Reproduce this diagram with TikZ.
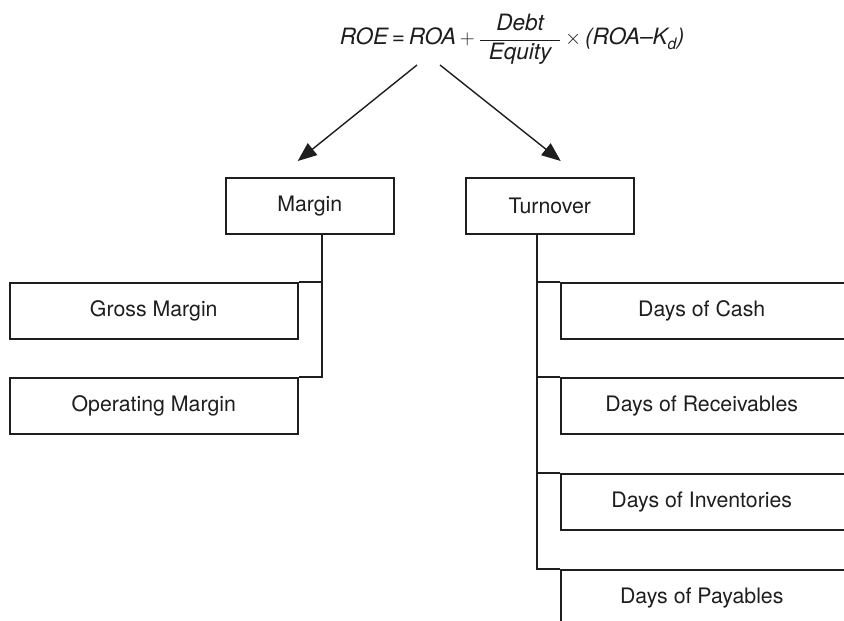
\documentclass[tikz,border=0pt]{standalone}
\usepackage{fontspec}
\setmainfont{TeX Gyre Heros}
\usetikzlibrary{arrows.meta}

\definecolor{ink}{HTML}{1E1E1E}

\begin{document}
\begin{tikzpicture}[x=1pt, y=-1pt,
    line width=1.5pt, draw=ink, text=ink,
    box/.style={draw=ink, line width=1.5pt, rectangle, anchor=north west,
      minimum height=56pt, inner sep=0pt,
      font=\fontsize{21.3}{25}\selectfont},
    smallbox/.style={box, minimum width=168pt},
    wide/.style={box, minimum width=288pt},
    daybox/.style={box, minimum width=302pt},
    daylabel/.style={label={[xshift=-10pt, font=\fontsize{21.3}{25}\selectfont, text=ink]center:#1}},
    link/.style={draw=ink, line width=1.5pt},
    arr/.style={draw=ink, line width=1.4pt, -{Triangle[length=19pt, width=15pt]}}
  ]
  % page area
  \clip (0,0) rectangle (844,621);
  \fill[white] (0,0) rectangle (844,621);

  % the ROE identity
  \node[anchor=base west, inner sep=0pt, font=\fontsize{22.5}{27}\selectfont] (formula) at (339,45)
    {{\itshape ROE}\,=\,{\itshape ROA}\,$+$\,$\displaystyle\frac{\mbox{\itshape Debt}}{\mbox{\hspace{9pt}\itshape Equity\hspace{9pt}}}$\,$\times$\,{\itshape (ROA–K\textsubscript{d})}};

  % first level
  \node[smallbox] (margin) at (225,177) {Margin};
  \node[smallbox] (turnover) at (465,177) {Turnover};

  % margin drivers
  \node[wide] (gross) at (9,282) {Gross Margin};
  \node[wide] (opm) at (9,377) {Operating Margin};

  % turnover drivers
  \node[daybox, daylabel={Days of Cash}] (cash) at (560,282) {};
  \node[daybox, daylabel={Days of Receivables}] (rec) at (560,377) {};
  \node[daybox, daylabel={Days of Inventories}] (inv) at (560,473) {};
  \node[daybox, daylabel={Days of Payables}] (pay) at (560,569) {};

  % arrows from the identity
  \coordinate (fL) at (417,65);
  \coordinate (fR) at (440,65);
  \draw[arr] (fL) -- ([xshift=-12pt, yshift=16pt]margin.north);
  \draw[arr] (fR) -- ([xshift=11pt, yshift=16pt]turnover.north);

  % margin tree
  \coordinate (mtrunk) at ([xshift=12pt]margin.south);
  \draw[link] (mtrunk) |- (opm.north east);
  \draw[link] (mtrunk |- gross.north east) -- (gross.north east);

  % turnover tree
  \coordinate (ttrunk) at ([xshift=-13pt]turnover.south);
  \draw[link] (ttrunk) |- (pay.north west);
  \draw[link] (ttrunk |- cash.north west) -- (cash.north west);
  \draw[link] (ttrunk |- rec.north west) -- (rec.north west);
  \draw[link] (ttrunk |- inv.north west) -- (inv.north west);
\end{tikzpicture}
\end{document}
